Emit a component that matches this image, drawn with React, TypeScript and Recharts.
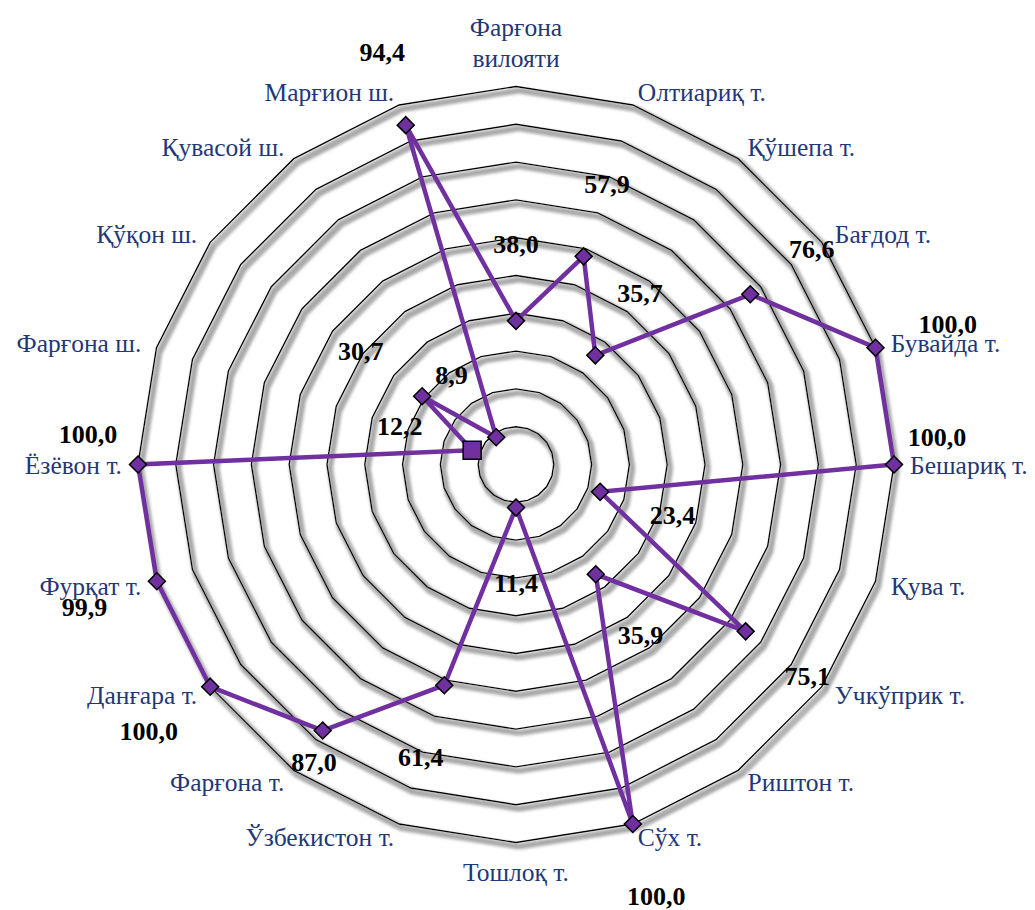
import { RadarChart, Radar, PolarGrid, PolarAngleAxis, PolarRadiusAxis, LabelList } from "recharts";

// districts of Fergana region, clockwise from the top
const districts = [
  "Фарғона\nвилояти",
  "Олтиариқ т.",
  "Қўшепа т.",
  "Бағдод т.",
  "Бувайда т.",
  "Бешариқ т.",
  "Қува т.",
  "Учкўприк т.",
  "Риштон т.",
  "Сўх т.",
  "Тошлоқ т.",
  "Ўзбекистон т.",
  "Фарғона т.",
  "Данғара т.",
  "Фурқат т.",
  "Ёзёвон т.",
  "Фарғона ш.",
  "Қўқон ш.",
  "Қувасой ш.",
  "Марғион ш.",
];

const shares = [38.0, 57.9, 35.7, 76.6, 100.0, 100.0, 23.4, 75.1, 35.9, 100.0, 11.4, 61.4, 87.0, 100.0, 99.9, 100.0, 12.2, 30.7, 8.9, 94.4];

const data = districts.map((name, i) => ({ name, v: shares[i] }));

const CX = 508;
const CY = 456.5;
const R = 378;
const PURPLE = "#7030A0";
const NAVY = "#1F3878";
const FONT = "'Liberation Serif', 'Times New Roman', serif";

// a few labels were dragged by hand in the original
const labelNudge: Record<number, [number, number]> = {
  5: [-33, -27],
  12: [36, -30],
  14: [0, 3],
  15: [26, -30],
};

const dir = (i: number) => {
  const t = (i * 2 * Math.PI) / districts.length;
  return { s: Math.sin(t), c: Math.cos(t) };
};

function AngleTick(props: any) {
  const { payload, index } = props;
  const { s, c } = dir(index);
  const vx = CX + R * s;
  const vy = CY - R * c;
  const lines = String(payload.value).split("\n");
  const anchor = s > 0.1 ? "start" : s < -0.1 ? "end" : "middle";
  const x = vx + 16 * s;
  let y = vy - 14 * c;
  if (Math.abs(c) > 0.99) y -= c * (lines.length * 30) / 2;
  const top = y - ((lines.length - 1) * 31) / 2;
  return (
    <text x={x} y={top} textAnchor={anchor} fill={NAVY} fontSize={25.5} fontFamily={FONT} dominantBaseline="central">
      {lines.map((l, k) => (
        <tspan key={k} x={x} dy={k === 0 ? 0 : 31}>
          {l}
        </tspan>
      ))}
    </text>
  );
}

function Marker(props: any) {
  const { cx, cy, index } = props;
  if (index === 16) {
    return <rect key={index} x={cx - 9} y={cy - 9} width={18} height={18} fill={PURPLE} stroke="#000" strokeWidth={1.5} />;
  }
  const d = 8.5;
  return (
    <polygon
      key={index}
      points={`${cx},${cy - d} ${cx + d},${cy} ${cx},${cy + d} ${cx - d},${cy}`}
      fill={PURPLE}
      stroke="#000"
      strokeWidth={1.5}
    />
  );
}

function ValueLabel(props: any) {
  const { index, value } = props;
  const px = props.x ?? props.viewBox?.x;
  const py = props.y ?? props.viewBox?.y;
  if (px == null || py == null) return null;
  const { s, c } = dir(index);
  const [nx, ny] = labelNudge[index] ?? [0, 0];
  return (
    <text
      x={px + 76 * s + nx}
      y={py - 76 * c + ny}
      textAnchor="middle"
      dominantBaseline="central"
      fontSize={26}
      fontWeight="bold"
      fontFamily={FONT}
      fill="#000"
    >
      {Number(value).toFixed(1).replace(".", ",")}
    </text>
  );
}

export default function App() {
  return (
    <div style={{ width: 1019, height: 902, background: "#fff", position: "relative" }}>
      <svg width={0} height={0} style={{ position: "absolute" }}>
        <defs>
          <filter id="ringShadow" x="-10%" y="-10%" width="120%" height="120%">
            <feMorphology in="SourceAlpha" operator="dilate" radius={2} result="fat" />
            <feGaussianBlur in="fat" stdDeviation={1.8} result="soft" />
            <feOffset in="soft" dx={3} dy={4} result="moved" />
            <feFlood floodColor="#8c8c8c" floodOpacity={0.75} />
            <feComposite in2="moved" operator="in" result="shadow" />
            <feMerge>
              <feMergeNode in="shadow" />
              <feMergeNode in="SourceGraphic" />
            </feMerge>
          </filter>
        </defs>
      </svg>
      <style>{`.recharts-polar-grid path, .recharts-polar-grid polygon { filter: url(#ringShadow); }`}</style>
      <RadarChart width={1019} height={902} data={data} cx={CX} cy={CY} outerRadius={R} margin={{ top: 0, right: 0, bottom: 0, left: 0 }}>
        <PolarGrid gridType="polygon" radialLines={false} stroke="#000" strokeWidth={1.4} />
        <PolarRadiusAxis domain={[0, 100]} tickCount={11} tick={false} axisLine={false} />
        <PolarAngleAxis dataKey="name" tick={<AngleTick />} tickLine={false} axisLine={false} />
        <Radar
          dataKey="v"
          stroke={PURPLE}
          strokeWidth={4.5}
          fill="none"
          fillOpacity={0}
          dot={Marker}
          isAnimationActive={false}
        >
          <LabelList dataKey="v" content={<ValueLabel />} />
        </Radar>
      </RadarChart>
    </div>
  );
}
